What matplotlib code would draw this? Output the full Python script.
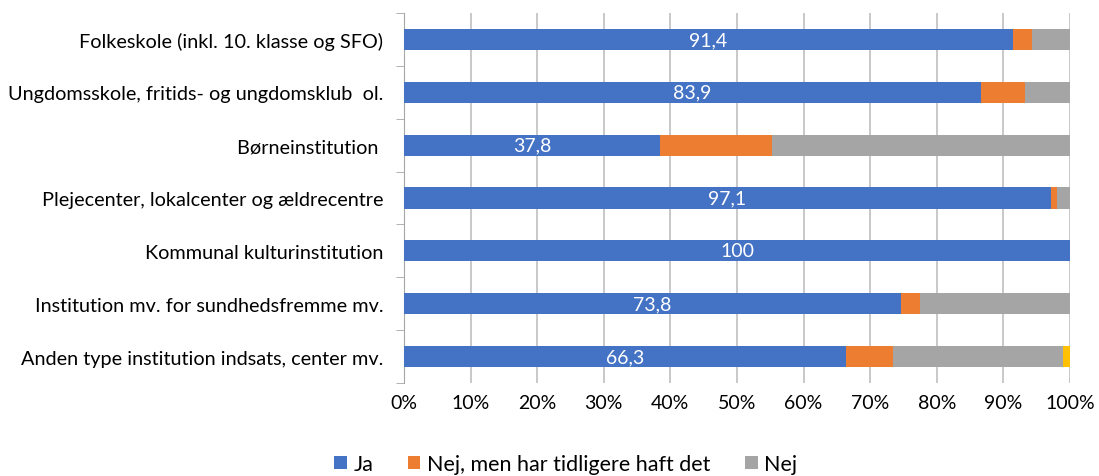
import numpy as np
import matplotlib.pyplot as plt

plt.rcParams['font.family'] = ['Lato', 'DejaVu Sans']

kategorier = ["Folkeskole (inkl. 10. klasse og SFO)",
              "Ungdomsskole, fritids- og ungdomsklub  ol.",
              "Børneinstitution ",
              "Plejecenter, lokalcenter og ældrecentre",
              "Kommunal kulturinstitution",
              "Institution mv. for sundhedsfremme mv.",
              "Anden type institution indsats, center mv."]
ja = [91.4, 86.6, 38.4, 97.1, 100.0, 74.6, 66.4]
nej_tidl = [2.9, 6.6, 16.9, 1.0, 0.0, 2.9, 7.0]
nej = [5.7, 6.8, 44.7, 1.9, 0.0, 22.5, 25.5]
ved_ikke = [0.0, 0.0, 0.0, 0.0, 0.0, 0.0, 1.1]
etiketter = ["91,4", "83,9", "37,8", "97,1", "100", "73,8", "66,3"]

farver = ["#4472C4", "#ED7D31", "#A5A5A5", "#FFC000"]
navne = ["Ja", "Nej, men har tidligere haft det", "Nej", None]

fig = plt.figure(figsize=(10.99, 4.77), dpi=100)
ax = fig.add_axes([404/1099, 1-384/477, 666/1099, 370/477])

y = np.arange(len(kategorier))
venstre = np.zeros(len(kategorier))
for serie, farve, navn in zip([ja, nej_tidl, nej, ved_ikke], farver, navne):
    ax.barh(y, serie, left=venstre, height=0.4, color=farve, label=navn, zorder=3)
    venstre += np.array(serie)

for i, tekst in enumerate(etiketter):
    ax.text(ja[i]/2, y[i], tekst, ha='center', va='center', color='white',
            fontsize=14, zorder=4)

ax.set_xlim(0, 100)
ax.set_ylim(len(kategorier)-0.5, -0.5)
ax.set_xticks(np.arange(0, 101, 10))
ax.set_xticklabels([f"{v}%" for v in range(0, 101, 10)], fontsize=14)
ax.set_yticks(y)
ax.set_yticklabels(kategorier, fontsize=14.3)
ax.set_yticks(np.arange(-0.5, len(kategorier), 1), minor=True)
ax.tick_params(axis='y', which='major', length=0, pad=15)
ax.tick_params(axis='y', which='minor', length=6, color='#A6A6A6', direction='out')
ax.tick_params(axis='x', length=0, pad=8)
ax.grid(axis='x', color='#BFBFBF', linewidth=1.2, zorder=0)
for s in ['top', 'right', 'bottom']:
    ax.spines[s].set_visible(False)
ax.spines['left'].set_color('#A6A6A6')

h, l = ax.get_legend_handles_labels()
fig.legend(h[:3], l[:3], loc='center', bbox_to_anchor=(0.5146, 1-465/477), ncol=3,
           frameon=False, fontsize=15.5, handlelength=0.6, handleheight=0.6,
           handletextpad=0.3, columnspacing=1.6)

fig.savefig("out.png", dpi=100)
